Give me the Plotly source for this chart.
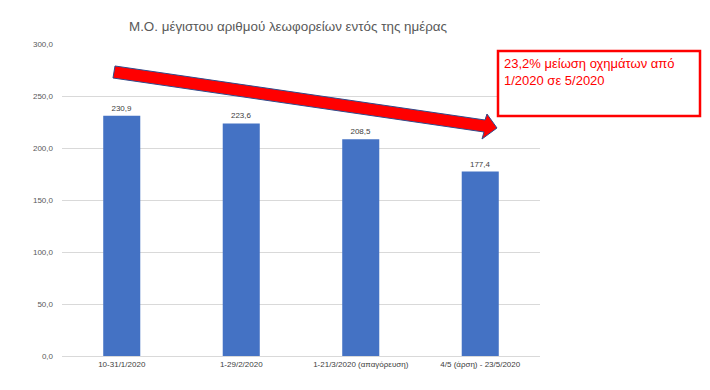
import plotly.graph_objects as go

categories = ["10-31/1/2020", "1-29/2/2020", "1-21/3/2020 (απαγόρευση)", "4/5 (άρση) - 23/5/2020"]
values = [230.9, 223.6, 208.5, 177.4]
tick_vals = [0, 50, 100, 150, 200, 250, 300]

# page body offset of the browser
OFF = 8
W, H = 710 - OFF, 390 - OFF
# plot area in screen pixels: x 62..540, y 44..356
L, R, T, B = 62 - OFF, 710 - 540, 44 - OFF, 390 - 356
PW, PH = W - L - R, H - T - B


def px(x):
    return (x - OFF - L) / PW


def py(y):
    return (H - B - (y - OFF)) / PH


fig = go.Figure()
fig.add_trace(go.Bar(
    x=categories, y=values,
    marker=dict(color="#4472C4", line=dict(width=0)),
    texttemplate="%{y:.1f}", textposition="outside",
    textfont=dict(size=8, color="#404040", family="Liberation Sans, Arial"),
    cliponaxis=False,
))

# arrow (decorative)
arrow_pts = [(115, 66), (485, 120), (487, 114), (497, 128), (482, 139), (484, 132), (113, 78)]
path = "M " + " L ".join(f"{px(x):.5f},{py(y):.5f}" for x, y in arrow_pts) + " Z"
shapes = [
    dict(type="path", xref="paper", yref="paper", path=path,
         fillcolor="#FF0000", line=dict(color="#2F4B8C", width=1)),
    dict(type="rect", xref="paper", yref="paper",
         x0=px(498), x1=px(700), y0=py(51), y1=py(116),
         fillcolor="white", line=dict(color="#FF0000", width=2.5)),
]

fig.update_layout(
    width=W, height=H,
    margin=dict(l=L, r=R, t=T, b=B),
    paper_bgcolor="white", plot_bgcolor="white",
    separators=",.",
    showlegend=False,
    bargap=0.69,
    font=dict(family="Liberation Sans, Arial", color="#595959"),
    xaxis=dict(showgrid=False, showline=True, linecolor="#D9D9D9", linewidth=1,
               ticks="", tickfont=dict(size=8, color="#404040"), fixedrange=True),
    yaxis=dict(range=[0, 300], tickvals=tick_vals, tickformat=".1f",
               showgrid=True, gridcolor="#D9D9D9", gridwidth=1, zeroline=False,
               showline=False, ticks="", ticklabelstandoff=8,
               tickfont=dict(size=8, color="#595959")),
    shapes=shapes,
    annotations=[
        dict(text="Μ.Ο. μέγιστου αριθμού λεωφορείων εντός της ημέρας",
             xref="paper", yref="paper", x=px(288), y=py(27), xanchor="center", yanchor="middle",
             showarrow=False, font=dict(size=13.4, color="#595959", family="Liberation Sans, Arial")),
        dict(text="23,2% μείωση οχημάτων από<br>1/2020 σε 5/2020",
             xref="paper", yref="paper", x=px(502), y=py(54), xanchor="left", yanchor="top",
             align="left", showarrow=False,
             font=dict(size=13, color="#FF0000", family="Liberation Sans, Arial")),
    ],
)

fig.write_html("out.html")
